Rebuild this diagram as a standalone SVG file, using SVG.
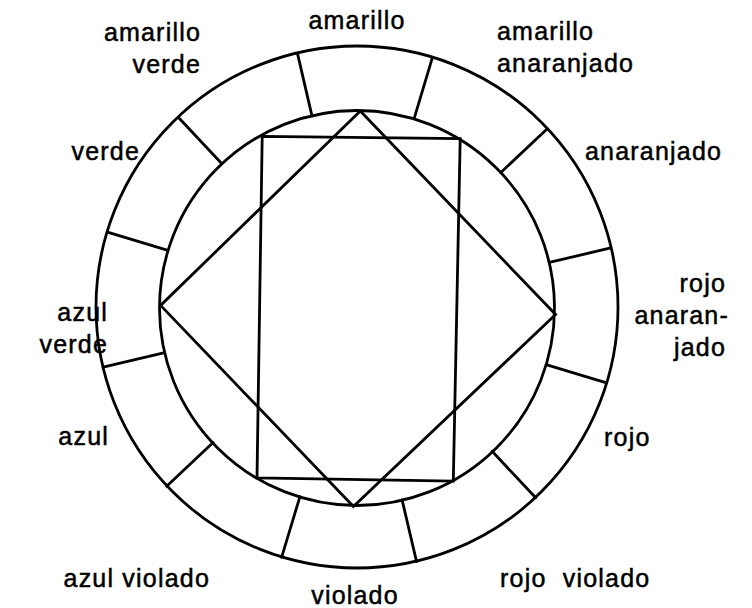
<svg xmlns="http://www.w3.org/2000/svg" width="752" height="608" viewBox="0 0 752 608">
<style>
.ln{fill:none;stroke:#000;stroke-width:2.8;stroke-linejoin:miter;stroke-linecap:round}
.t{font-family:"Liberation Sans",Arial,sans-serif;font-size:25px;letter-spacing:1.2px;fill:#000;stroke:#000;stroke-width:0.5}
.e{text-anchor:end}
.m{text-anchor:middle}
</style>
<rect width="752" height="608" fill="#fff"/>
<g id="wheel">
<circle class="ln" cx="357" cy="307" r="261"/>
<circle class="ln" cx="357" cy="308" r="197.5"/>
</g>
<g id="dividers" transform="rotate(1.8 357 307.5)">
<line class="ln" x1="408.1" y1="117.2" x2="424.5" y2="55.4"/>
<line class="ln" x1="496.6" y1="168.0" x2="541.6" y2="122.9"/>
<line class="ln" x1="547.8" y1="256.4" x2="608.8" y2="240.0"/>
<line class="ln" x1="547.8" y1="358.6" x2="608.8" y2="375.0"/>
<line class="ln" x1="496.6" y1="447.0" x2="541.6" y2="492.1"/>
<line class="ln" x1="408.1" y1="498.3" x2="424.5" y2="559.6"/>
<line class="ln" x1="305.9" y1="498.3" x2="289.5" y2="559.6"/>
<line class="ln" x1="217.4" y1="447.0" x2="172.4" y2="492.1"/>
<line class="ln" x1="166.2" y1="358.6" x2="105.2" y2="375.0"/>
<line class="ln" x1="166.2" y1="256.4" x2="105.2" y2="240.0"/>
<line class="ln" x1="217.4" y1="168.0" x2="172.4" y2="122.9"/>
<line class="ln" x1="305.9" y1="117.2" x2="289.5" y2="55.4"/>
</g>
<g id="square">
<polygon class="ln" points="360.3,111 555.6,314.5 353.4,506.5 160.6,305.4"/>
</g>
<g id="rectangle">
<polygon class="ln" points="262.2,136.3 460.2,138.7 453.3,481.2 257,477.8"/>
</g>
<g id="labels">
<text class="t m" x="357" y="29">amarillo</text>
<text class="t e" x="201" y="41">amarillo</text>
<text class="t e" x="201" y="73">verde</text>
<text class="t" x="497" y="40">amarillo</text>
<text class="t" x="497" y="72">anaranjado</text>
<text class="t e" x="140" y="160">verde</text>
<text class="t" x="585" y="160">anaranjado</text>
<text class="t e" x="726" y="292">rojo</text>
<text class="t e" x="729" y="324">anaran-</text>
<text class="t e" x="726" y="356">jado</text>
<text class="t e" x="108" y="321">azul</text>
<text class="t e" x="108" y="353">verde</text>
<text class="t e" x="109" y="445">azul</text>
<text class="t" x="604" y="446">rojo</text>
<text class="t e" x="210" y="587">azul violado</text>
<text class="t" x="500" y="587" xml:space="preserve">rojo  violado</text>
<text class="t m" x="355" y="604">violado</text>
</g>
</svg>
